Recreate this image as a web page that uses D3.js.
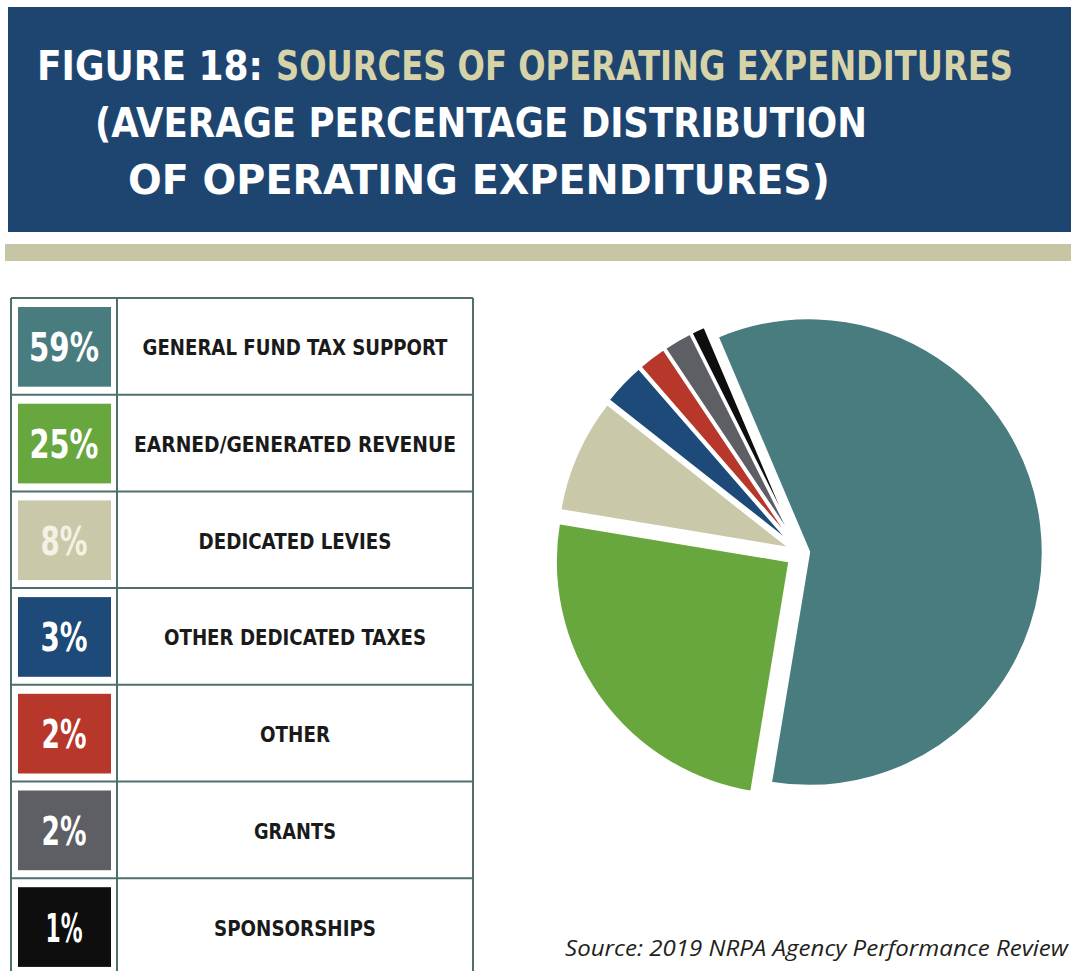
<!DOCTYPE html>
<html><head><meta charset="utf-8">
<script src="https://cdn.jsdelivr.net/npm/d3@7"></script>
<style>
html,body{margin:0;padding:0;background:#fff;}
svg{display:block;}
</style></head>
<body>
<svg id="chart" width="1071" height="971"></svg>
<script>
// ---- data ----
const categories = ["GENERAL FUND TAX SUPPORT","EARNED/GENERATED REVENUE","DEDICATED LEVIES","OTHER DEDICATED TAXES","OTHER","GRANTS","SPONSORSHIPS"];
const values = [59, 25, 8, 3, 2, 2, 1];
const colors = ["#487c7e","#67a73d","#c9c8a8","#1d4a78","#b7372b","#5e5e65","#0e0e0e"];
const titleLines = ["(AVERAGE PERCENTAGE DISTRIBUTION","OF OPERATING EXPENDITURES)"];
const titleLead = "FIGURE 18:";
const titleRest = "SOURCES OF OPERATING EXPENDITURES";
const sourceText = "Source: 2019 NRPA Agency Performance Review";

const svg = d3.select("#chart");
const condensed = "'Liberation Sans Narrow','DejaVu Sans Condensed',sans-serif";

// ---- banner ----
svg.append("rect").attr("x",8).attr("y",7).attr("width",1063).attr("height",225).attr("fill","#1e4570");
svg.append("rect").attr("x",5).attr("y",244).attr("width",1066).attr("height",17).attr("fill","#c6c5a4");

function titleText(str, x, yb, w, fill){
  svg.append("text").attr("transform",`translate(${x},${yb}) scale(1,1.2)`).attr("fill",fill)
    .attr("font-family",condensed).attr("font-weight","bold").attr("font-size",34)
    .attr("textLength",w).attr("lengthAdjust","spacingAndGlyphs").text(str);
}
titleText(titleLead, 37, 80, 226, "#ffffff");
titleText(titleRest, 276, 80, 737, "#d6d3a8");
const lineGeo = [{x:95,w:772,y:137},{x:128,w:702,y:194}];
titleLines.forEach((t,i)=> titleText(t, lineGeo[i].x, lineGeo[i].y, lineGeo[i].w, "#ffffff"));

// ---- table legend ----
const rowTop = 298, rowH = 96.7, left = 11, divX = 117, right = 473;
const y = d3.scaleBand().domain(categories).range([rowTop, rowTop + rowH*categories.length]);
const pctW = {59:70,25:69,8:47,3:47,2:45,1:37};
const labW = [305,322,193,262,70,82,162];

const tbl = svg.append("g");
const rows = tbl.selectAll("g.row").data(categories).join("g").attr("class","row");
rows.append("rect").attr("x",18).attr("y",d=>y(d)+9).attr("width",93).attr("height",y.bandwidth()-17)
  .attr("fill",(d,i)=>colors[i]);
rows.append("text").attr("x",64).attr("y",d=>y(d)+y.bandwidth()/2+15)
  .attr("text-anchor","middle").attr("fill",(d,i)=> i===2 ? "#f4f2e4" : "#ffffff")
  .attr("font-family",condensed).attr("font-weight","bold").attr("font-size",39)
  .attr("textLength",(d,i)=>pctW[values[i]]).attr("lengthAdjust","spacingAndGlyphs")
  .text((d,i)=>values[i]+"%");
rows.append("text").attr("x",(divX+right)/2).attr("y",d=>y(d)+y.bandwidth()/2+9)
  .attr("text-anchor","middle").attr("fill","#1a1a1a")
  .attr("font-family","'DejaVu Sans Condensed','Liberation Sans Narrow',sans-serif").attr("font-weight","bold").attr("font-size",22)
  .attr("textLength",(d,i)=>labW[i]).attr("lengthAdjust","spacingAndGlyphs")
  .text(d=>d);
// grid lines
const lineColor = "#4e6f6d";
tbl.selectAll("line.h").data(categories).join("line").attr("class","h")
  .attr("x1",left).attr("x2",right).attr("y1",d=>y(d)).attr("y2",d=>y(d))
  .attr("stroke",lineColor).attr("stroke-width",2);
tbl.append("line").attr("x1",left).attr("x2",left).attr("y1",rowTop).attr("y2",980).attr("stroke",lineColor).attr("stroke-width",2);
tbl.append("line").attr("x1",right).attr("x2",right).attr("y1",rowTop).attr("y2",980).attr("stroke",lineColor).attr("stroke-width",2);
tbl.append("line").attr("x1",divX).attr("x2",divX).attr("y1",rowTop).attr("y2",980).attr("stroke",lineColor).attr("stroke-width",2);

// ---- pie ----
const cx = 801, cy = 553, r = 234;
const deg = Math.PI/180;
const pie = d3.pie().sort(null).startAngle(-23*deg).endAngle(337*deg)(values);
const arc = d3.arc().innerRadius(0).outerRadius(r);
const explode = [8, 14, 11, 12, 12, 12, 12];
const pg = svg.append("g").attr("transform",`translate(${cx},${cy})`);
pg.selectAll("path").data(pie).join("path")
  .attr("d",arc)
  .attr("transform",(d,i)=>{
    const a = (d.startAngle+d.endAngle)/2;
    return `translate(${Math.sin(a)*explode[i]},${-Math.cos(a)*explode[i]})`;
  })
  .attr("fill",(d,i)=>colors[i])
  .attr("stroke","#ffffff").attr("stroke-width",2.5).attr("stroke-linejoin","round");

// ---- source ----
svg.append("text").attr("x",565).attr("y",956).attr("fill","#231f20")
  .attr("font-family","'Open Sans','Noto Sans',sans-serif").attr("font-style","italic").attr("font-size",22)
  .attr("textLength",503).attr("lengthAdjust","spacingAndGlyphs").text(sourceText);
</script>
</body></html>
